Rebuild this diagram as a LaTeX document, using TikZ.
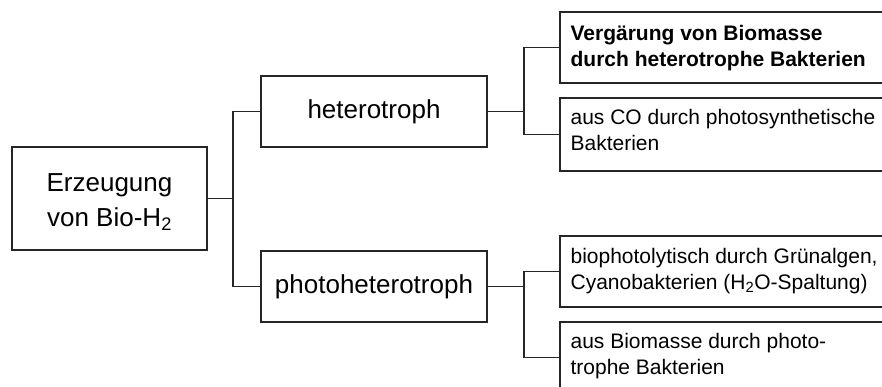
\documentclass[tikz,border=0pt]{standalone}
\usepackage{fontspec}
\setmainfont{Liberation Sans}
\newcommand{\tworows}[2]{\vtop{\baselineskip=26pt\hbox{#1}\hbox{#2}}}
\begin{document}
\begin{tikzpicture}[x=1pt,y=-1pt,
  box/.style={draw=black!85,line width=1.2pt,inner sep=0pt,fill=white},
  bigtext/.style={font=\fontsize{26}{35}\selectfont},
  rtext/.style={anchor=base west,inner sep=0pt,font=\fontsize{21}{26}\selectfont},
  conn/.style={draw=black!85,line width=1.2pt}]
\useasboundingbox (0,0) rectangle (882,387);
\clip (0,0) rectangle (882,387);
% main boxes
\node[box,minimum width=195pt,minimum height=103pt] (L) at (109.5,198.5) {};
\node[bigtext,align=center] (Lt) at (109.5,202) {Erzeugung\\von Bio-H\textsubscript{2}};
\node[box,bigtext,minimum width=226pt,minimum height=71pt] (H) at (374,111.5) {heterotroph};
\node[box,bigtext,minimum width=226pt,minimum height=71pt] (P) at (374,286.5) {photoheterotroph};
% right boxes
\node[box,minimum width=340pt,minimum height=71pt] (R1) at (730,47.5) {};
\node[box,minimum width=340pt,minimum height=73pt] (R2) at (730,134.5) {};
\node[box,minimum width=340pt,minimum height=71pt] (R3) at (730,271.5) {};
\node[box,minimum width=340pt,minimum height=71pt] (R4) at (730,357.5) {};
\node[rtext] (t1) at ([xshift=11pt,yshift=-29pt]R1.north west) {\tworows{\bfseries Vergärung von Biomasse}{\bfseries durch heterotrophe Bakterien}};
\node[rtext] (t2) at ([xshift=11pt,yshift=-27pt]R2.north west) {\tworows{aus CO durch photosynthetische}{Bakterien}};
\node[rtext] (t3) at ([xshift=11pt,yshift=-28pt]R3.north west) {\tworows{biophotolytisch durch Grünalgen,}{Cyanobakterien (H\textsubscript{2}O-Spaltung)}};
\node[rtext] (t4) at ([xshift=11pt,yshift=-27pt]R4.north west) {\tworows{aus Biomasse durch photo-}{trophe Bakterien}};
% connectors
\coordinate (j1) at (233,198.5);
\coordinate (j2) at (524,111.5);
\coordinate (j3) at (524,286.5);
\draw[conn] (L.east) -- (j1);
\draw[conn] (H.west) -| (j1) |- (P.west);
\draw[conn] (H.east) -- (j2);
\draw[conn] (R1.west) -| (j2) |- (R2.west);
\draw[conn] (P.east) -- (j3);
\draw[conn] (R3.west) -| (j3) |- (R4.west);
\end{tikzpicture}
\end{document}
